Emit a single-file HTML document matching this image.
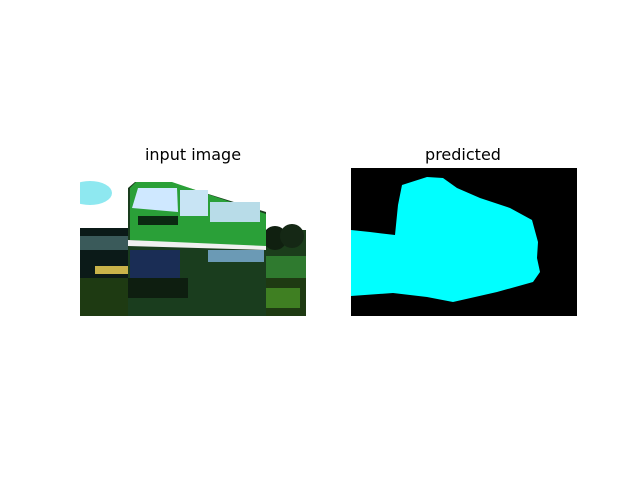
<!DOCTYPE html>
<html><head><meta charset="utf-8"><style>
body{margin:0;background:#fff;}
svg{display:block;font-family:"DejaVu Sans","Liberation Sans",sans-serif;}
</style></head><body>
<svg width="640" height="480">
<rect width="640" height="480" fill="#fff"/>
<text x="193" y="160" font-size="16" text-anchor="middle">input image</text>
<text x="463" y="160" font-size="16" text-anchor="middle">predicted</text>
<g>
<svg x="80" y="168" width="226" height="148" viewBox="0 0 226 148">
<rect width="226" height="148" fill="#fff"/>
<ellipse cx="10" cy="25" rx="22" ry="12" fill="#8ee8f0"/>
<rect x="0" y="60" width="60" height="70" fill="#0b1a18"/>
<rect x="0" y="68" width="50" height="14" fill="#3a5a5a"/>
<rect x="15" y="98" width="35" height="8" fill="#c9b34a"/>
<rect x="180" y="62" width="46" height="40" fill="#1b3d1b"/>
<circle cx="195" cy="70" r="12" fill="#102010"/>
<circle cx="212" cy="68" r="12" fill="#152815"/>
<rect x="150" y="88" width="76" height="22" fill="#2f7a2f"/>
<rect x="0" y="110" width="226" height="38" fill="#1e3a12"/>
<rect x="60" y="120" width="160" height="20" fill="#3f7f22"/>
<path d="M48 20 L55 14 L90 14 L186 44 L186 148 L48 148 Z" fill="#1a3d1e"/>
<path d="M50 20 L56 14 L92 14 L186 46 L186 80 L50 72 Z" fill="#2aa038"/>
<path d="M52 40 L58 20 L97 20 L98 44 Z" fill="#cfe8ff"/>
<rect x="100" y="22" width="28" height="26" fill="#c8e4f4"/>
<rect x="130" y="34" width="50" height="20" fill="#b8dce8"/>
<rect x="58" y="48" width="40" height="9" fill="#0b2a12"/>
<path d="M48 72 L186 78 L186 82 L48 78 Z" fill="#f0f0f0"/>
<rect x="50" y="82" width="50" height="28" fill="#1a2d55"/>
<rect x="128" y="82" width="56" height="12" fill="#6b9ab5"/>
<rect x="48" y="110" width="60" height="20" fill="#0e1e10"/>
</svg>
</g>
<g>
<rect x="351" y="168" width="226" height="148" fill="#000"/>
<path d="M351 230 L370 232 L395 235 L398 205 L402 185 L427 177 L443 178 L457 188 L480 198 L510 208 L532 220 L538 242 L537 258 L540 272 L533 282 L497 292 L453 302 L427 297 L393 293 L351 296 Z" fill="#00ffff"/>
</g>
</svg>
</body></html>
